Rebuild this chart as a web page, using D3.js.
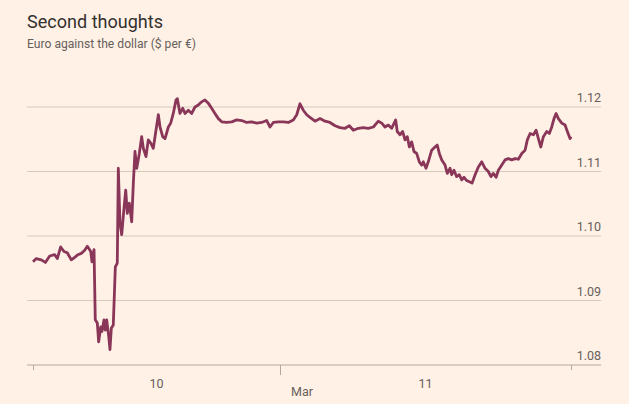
<!DOCTYPE html>
<html>
<head>
<meta charset="utf-8">
<script src="https://cdn.jsdelivr.net/npm/d3@7"></script>
<style>
  html, body { margin: 0; padding: 0; background: #fff1e5; }
  svg { display: block; }
  text { font-family: Roboto, "Noto Sans", sans-serif; }
</style>
</head>
<body>
<svg id="chart" width="629" height="404"></svg>
<script>
// ---- data ----
const title = "Second thoughts";
const subtitle = "Euro against the dollar ($ per €)";
// hours since 10 Mar 00:00
const hours = [0,0.32,0.81,1.20,1.62,2.11,2.36,2.69,3.01,3.33,3.72,4.05,4.37,4.69,5.02,5.28,5.61,5.73,5.93,6.05,
6.25,6.38,6.58,6.70,6.90,7.03,7.16,7.36,7.48,7.61,7.80,7.92,8.00,8.19,8.29,8.45,8.62,8.84,9.01,9.16,
9.36,9.59,9.75,9.91,10.08,10.33,10.56,10.72,10.98,11.20,11.44,11.69,11.95,12.18,12.34,12.60,12.83,13.15,13.38,13.63,
13.90,14.02,14.28,14.55,14.77,15.09,15.42,15.74,16.06,16.39,16.71,17.03,17.36,17.68,18.01,18.34,18.82,19.31,19.79,20.28,
20.76,21.25,21.74,22.22,22.71,23.03,23.35,23.84,24.27,24.68,25.10,25.38,25.65,25.92,26.20,26.47,26.89,27.30,27.71,28.12,
28.54,28.95,29.36,29.72,30.05,30.46,30.87,31.28,31.70,32.11,32.39,32.66,32.93,33.21,33.54,33.67,33.90,34.12,34.31,34.50,
34.67,34.86,35.05,35.27,35.49,35.69,35.82,36.04,36.23,36.51,36.78,36.97,37.14,37.34,37.61,37.80,38.02,38.16,38.35,38.57,
38.79,38.99,39.18,39.40,39.62,39.84,40.09,40.36,40.64,40.91,41.18,41.40,41.59,41.82,42.01,42.29,42.56,42.83,43.11,43.39,
43.66,43.94,44.21,44.40,44.63,44.90,45.12,45.31,45.51,45.72,46.00,46.21,46.41,46.60,46.77,46.96,47.24,47.51,47.70,47.92,48];
const eurusd = [1.0960,1.0965,1.0963,1.0959,1.0969,1.0971,1.0965,1.0983,1.0976,1.0974,1.0963,1.0967,1.0971,1.0973,1.0978,1.0984,1.0976,1.0960,1.0979,1.0870,
1.0865,1.0836,1.0859,1.0852,1.0870,1.0854,1.0870,1.0844,1.0824,1.0857,1.0862,1.0916,1.0952,1.0958,1.1105,1.1020,1.1002,1.1043,1.1071,1.1035,
1.1051,1.1022,1.1082,1.1131,1.1105,1.1128,1.1154,1.1136,1.1123,1.1149,1.1144,1.1136,1.1164,1.1188,1.1169,1.1154,1.1151,1.1169,1.1175,1.1190,
1.1211,1.1213,1.1190,1.1198,1.1190,1.1195,1.1190,1.1200,1.1203,1.1208,1.1211,1.1206,1.1198,1.1190,1.1182,1.1177,1.1176,1.1177,1.1180,1.1179,
1.1176,1.1177,1.1175,1.1176,1.1179,1.1169,1.1176,1.1177,1.1177,1.1176,1.1180,1.1188,1.1205,1.1195,1.1188,1.1184,1.1178,1.1182,1.1178,1.1176,
1.1171,1.1168,1.1167,1.1171,1.1164,1.1167,1.1168,1.1167,1.1169,1.1178,1.1175,1.1169,1.1172,1.1167,1.1180,1.1162,1.1157,1.1162,1.1149,1.1154,
1.1138,1.1146,1.1131,1.1128,1.1115,1.1110,1.1115,1.1105,1.1115,1.1133,1.1138,1.1141,1.1128,1.1118,1.1110,1.1097,1.1105,1.1095,1.1102,1.1092,
1.1095,1.1087,1.1091,1.1086,1.1084,1.1082,1.1095,1.1107,1.1115,1.1105,1.1100,1.1092,1.1097,1.1091,1.1102,1.1110,1.1118,1.1120,1.1118,1.1120,
1.1119,1.1128,1.1133,1.1149,1.1159,1.1157,1.1164,1.1151,1.1138,1.1154,1.1162,1.1159,1.1169,1.1182,1.1190,1.1182,1.1175,1.1172,1.1162,1.1151,1.1154];
const yTicks = [1.08, 1.09, 1.10, 1.11, 1.12];
const xTicks = [0, 24, 48];
const dayLabels = [{at: 12, text: "10"}, {at: 36, text: "11"}];
const monthLabel = {at: 24, text: "Mar"};

// ---- layout ----
const svg = d3.select("#chart");
const left = 27, right = 601;
const x = d3.scaleLinear().domain([0, 24, 48]).range([33, 280, 571]);
const y = d3.scaleLinear().domain([1.08, 1.12]).range([365, 107]);

svg.append("rect").attr("width", 629).attr("height", 404).attr("fill", "#fff1e5");

svg.append("text").attr("x", 27).attr("y", 28)
  .attr("font-size", 19).attr("fill", "#33302e")
  .attr("textLength", 136).attr("lengthAdjust", "spacingAndGlyphs").text(title);
svg.append("text").attr("x", 27).attr("y", 48)
  .attr("font-size", 12).attr("fill", "#66605c")
  .attr("textLength", 169).attr("lengthAdjust", "spacingAndGlyphs").text(subtitle);

// gridlines + y labels
const grid = svg.append("g");
grid.selectAll("line").data(yTicks.filter(d => d > 1.08)).join("line")
  .attr("x1", left).attr("x2", right)
  .attr("y1", d => y(d)).attr("y2", d => y(d))
  .attr("stroke", "#d6cabd").attr("stroke-width", 1.2);
grid.selectAll("text").data(yTicks).join("text")
  .attr("x", right).attr("y", d => y(d) - 5)
  .attr("text-anchor", "end").attr("font-size", 12.5).attr("fill", "#66605c")
  .text(d => d3.format(".2f")(d));

// x axis
const xAxis = svg.append("g").attr("transform", `translate(0,${y(1.08)})`)
  .call(d3.axisBottom(x).tickValues(xTicks).tickFormat("").tickSizeOuter(0).tickSizeInner(5));
xAxis.select(".domain").attr("d", `M${left},0H${right}`).attr("stroke", "#b3a99e").attr("stroke-width", 1.2);
xAxis.selectAll(".tick line").attr("stroke", "#b3a99e")
  .attr("y2", d => d === 24 ? 10 : 5);

svg.selectAll(".daylabel").data(dayLabels).join("text")
  .attr("class", "daylabel")
  .attr("x", d => x(d.at)).attr("y", 388)
  .attr("text-anchor", "middle").attr("font-size", 12.5).attr("fill", "#66605c")
  .text(d => d.text);
svg.append("text").attr("x", x(monthLabel.at) + 22).attr("y", 396)
  .attr("text-anchor", "middle").attr("font-size", 12.5).attr("fill", "#66605c")
  .text(monthLabel.text);

// line
const pts = hours.map((h, i) => [h, eurusd[i]]);
svg.append("path").datum(pts)
  .attr("fill", "none").attr("stroke", "#8a3659").attr("stroke-width", 2.8)
  .attr("stroke-linejoin", "round")
  .attr("d", d3.line().x(d => x(d[0])).y(d => y(d[1])));
</script>
</body>
</html>
